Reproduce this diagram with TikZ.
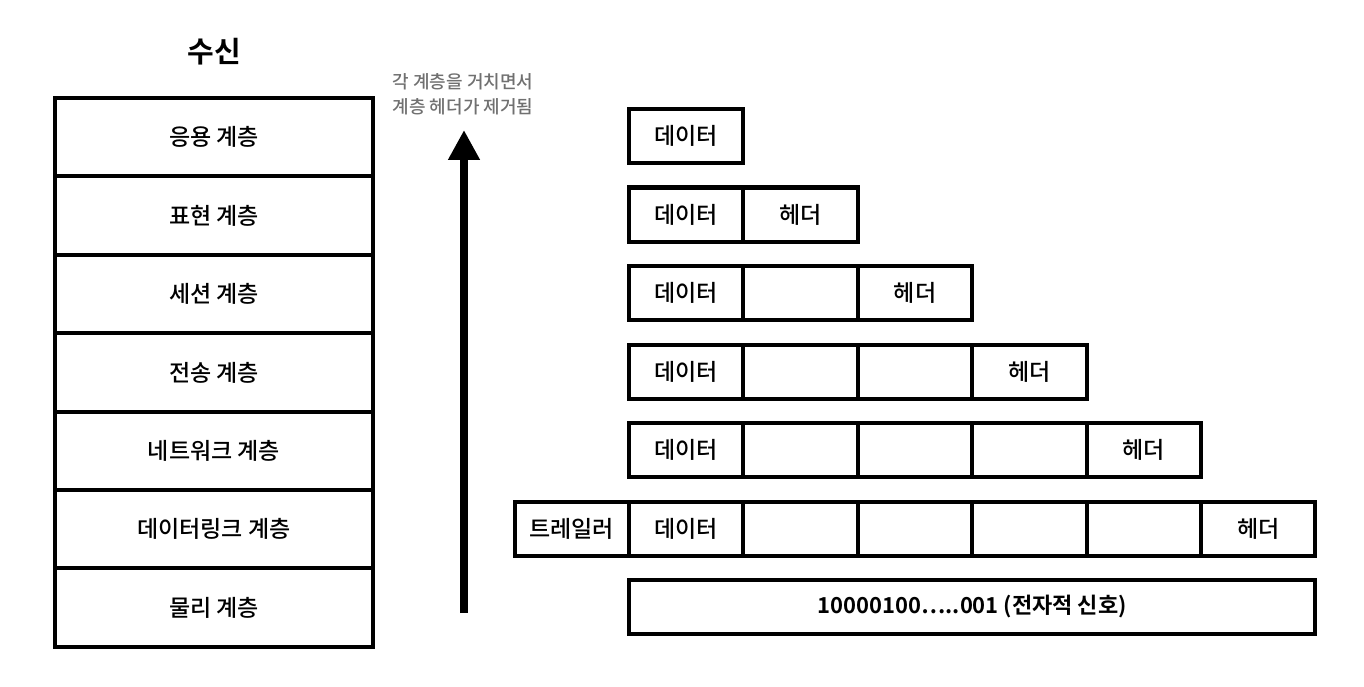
\documentclass[tikz,border=0pt]{standalone}
\usepackage{fontspec}
\newfontfamily\kr[UprightFont={* Medium},BoldFont={* Bold}]{Noto Sans CJK KR}
\usetikzlibrary{arrows.meta,positioning}
\definecolor{noteGray}{HTML}{707070}
\tikzset{
  layer/.style={
    rectangle, draw=black, line width=4pt, outer sep=0pt,
    minimum width=318pt, minimum height=78.4pt, inner sep=0pt,
    font=\kr\fontsize{23}{26}\selectfont
  },
  cell/.style={
    rectangle, draw=black, line width=4pt, outer sep=0pt,
    minimum width=114.4pt, minimum height=54pt, inner sep=0pt,
    font=\kr\fontsize{23}{26}\selectfont
  },
  bits/.style={cell, minimum width=686.4pt, font=\kr\bfseries\fontsize{22}{26}\selectfont},
  title/.style={font=\kr\bfseries\fontsize{29}{32}\selectfont},
  note/.style={font=\kr\fontsize{18}{25}\selectfont, text=noteGray, align=center},
  flow/.style={-{Triangle[length=30pt,width=30pt]}, line width=8pt, draw=black}
}
\begin{document}
\begin{tikzpicture}[x=1pt,y=-1pt]
  \useasboundingbox (0,0) rectangle (1364,687);
  % title
  \node[title] (recv) at (214,52) {수신};
  % layer stack
  \node[layer, anchor=north west] (l1) at (55,98) {응용 계층};
  \foreach \i/\prev/\lab in {2/1/표현 계층,3/2/세션 계층,4/3/전송 계층,5/4/네트워크 계층,6/5/데이터링크 계층,7/6/물리 계층}
  {
    \node[layer, below=0pt of l\prev] (l\i) {\lab};
  }
  % upward arrow and note
  \coordinate (up-start) at (464,613);
  \coordinate (up-end) at (464,130);
  \draw[flow] (up-start) -- (up-end);
  \node[note] (note) at (463,94.5) {각 계층을 거치면서\\계층 헤더가 제거됨};
  % frames: data + headers
  \foreach \r in {0,...,5}
    \foreach \c in {0,...,\r}
    {
      \node[cell, anchor=north west] (c\r-\c) at (629+114.4*\c,109+78.5*\r)
        {\ifnum\c=0 데이터\else\ifnum\c=\r 헤더\fi\fi};
    }
  % trailer
  \node[cell, left=0pt of c5-0] (trailer) {트레일러};
  % physical signal
  \node[bits, anchor=north west] (bits) at (629,580) {10000100…..001 (전자적 신호)};
\end{tikzpicture}
\end{document}
